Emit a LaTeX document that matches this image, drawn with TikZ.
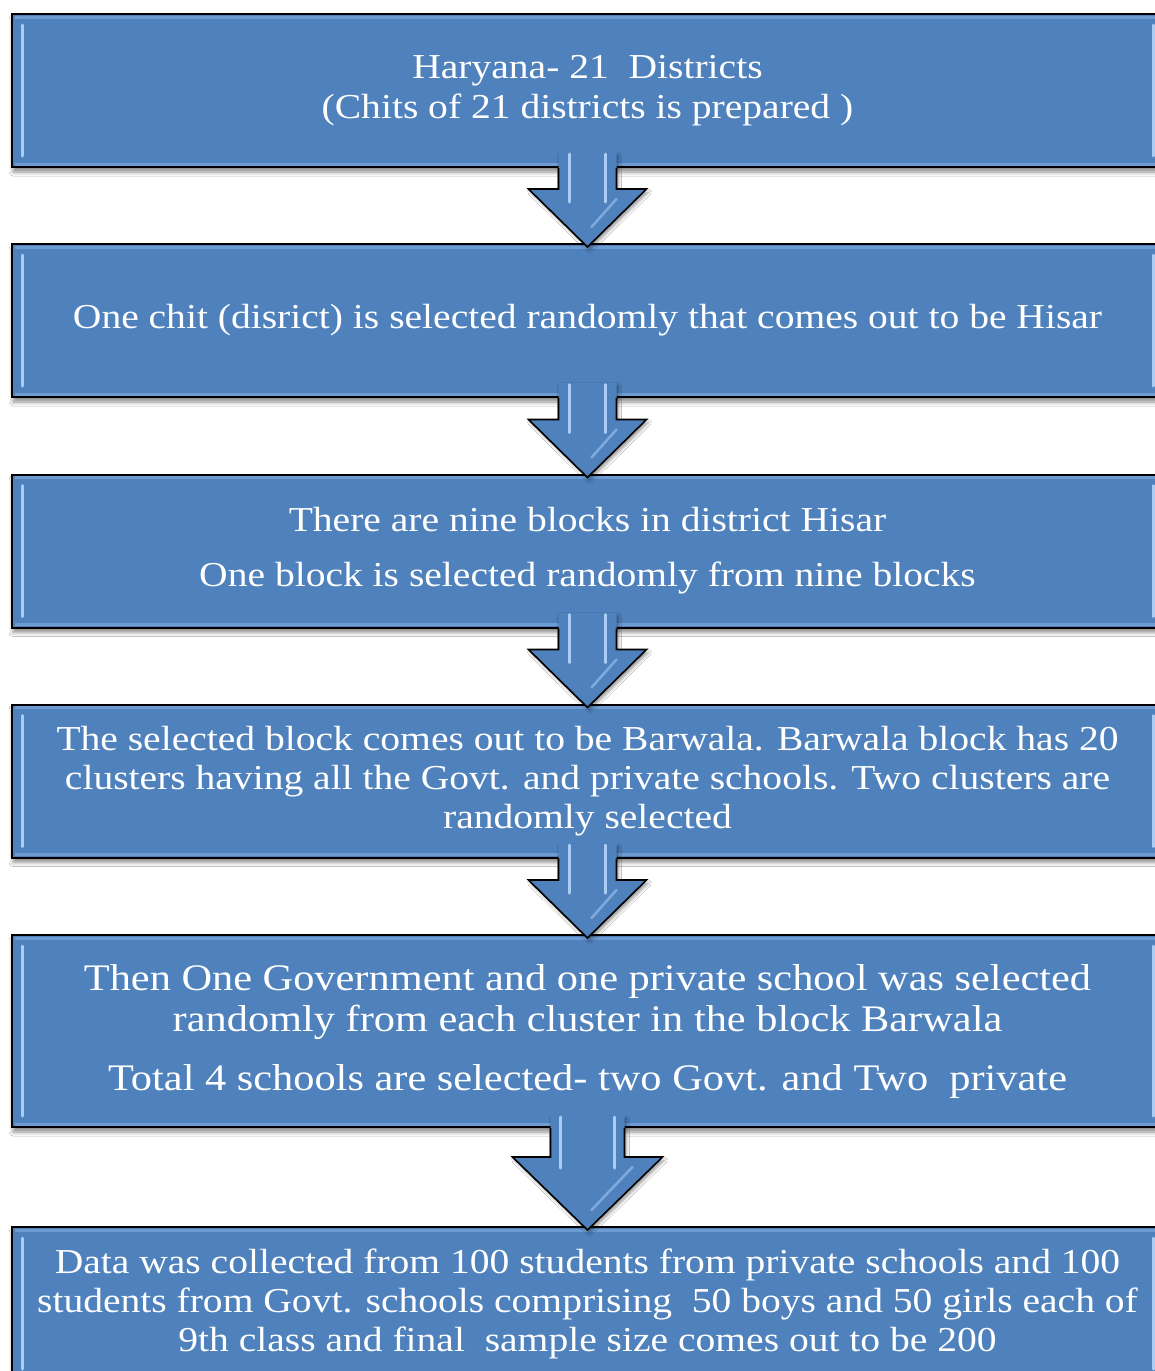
\documentclass[tikz,border=0pt]{standalone}
\usepackage{fontspec}
\setmainfont[FakeStretch=1.13]{Liberation Serif}
\usetikzlibrary{calc,shadows.blur}
\definecolor{boxblue}{HTML}{4F81BD}
\definecolor{bevellight}{HTML}{A9CDF4}
\definecolor{bandlight}{HTML}{6E9BD1}
\tikzset{
  flowbox/.style={rectangle, draw=black, line width=2pt, fill=boxblue, text=white,
    minimum width=1151pt, minimum height=153pt, inner sep=0pt, align=center,
    font=\fontsize{35}{39}\selectfont,
    blur shadow={shadow xshift=1pt, shadow yshift=-5pt, shadow blur radius=4pt, shadow opacity=45}},
  bevel/.style={draw=bevellight, line width=3pt, line cap=round},
  band/.style={draw=bandlight, line width=3pt},
  arrowfill/.style={fill=boxblue,
    blur shadow={shadow xshift=2pt, shadow yshift=-3pt, shadow blur radius=3pt, shadow opacity=40}},
  arrowline/.style={draw=black, line width=1.6pt, line join=miter},
  shaftlight/.style={draw=bevellight, line width=3pt, line cap=round},
  glosslight/.style={draw=bevellight, line width=2.5pt, line cap=round, opacity=0.55}
}
% #1 upper node, #2 lower node, #3 shaft half width, #4 wing half width,
% #5 wing height above tip, #6 shaft top above tip, #7 highlight offset, #8 highlight bottom above tip
\newcommand{\flowarrow}[8]{%
  \coordinate (tip) at ($(#2.north)+(0,4)$);
  \coordinate (sl) at ($(tip)+(-#3,0)$);
  \coordinate (sr) at ($(tip)+(#3,0)$);
  \path[arrowfill] ($(tip)+(-#3,-#6)$) -- ($(tip)+(-#3,-#5)$) -- ($(tip)+(-#4,-#5)$) -- (tip)
     -- ($(tip)+(#4,-#5)$) -- ($(tip)+(#3,-#5)$) -- ($(tip)+(#3,-#6)$) -- cycle;
  \draw[arrowline] (sl |- #1.south) -- ($(tip)+(-#3,-#5)$) -- ($(tip)+(-#4,-#5)$) -- (tip)
     -- ($(tip)+(#4,-#5)$) -- ($(tip)+(#3,-#5)$) -- (sr |- #1.south);
  \draw[shaftlight] ($(tip)+(-#7,-#6+2)$) -- ($(tip)+(-#7,-#8)$);
  \draw[shaftlight] ($(tip)+(#7,-#6+2)$) -- ($(tip)+(#7,-#8)$);
  \draw[glosslight] ($(tip)+(4,-20)$) -- ($(tip)+(#4-30,-#5+10)$);
}
\newcommand{\bevelbox}[1]{%
  \draw[band] ($(#1.north west)+(4,4)$) -- ($(#1.north east)+(-4,4)$);
  \draw[band] ($(#1.south west)+(4,-4)$) -- ($(#1.south east)+(-4,-4)$);
  \draw[bevel] ($(#1.north west)+(11,12)$) -- ($(#1.south west)+(11,-12)$);
  \draw[bevel] ($(#1.north east)+(-11,12)$) -- ($(#1.south east)+(-11,-12)$);
}
\begin{document}
\begin{tikzpicture}[x=1pt,y=-1pt]
\useasboundingbox[fill=white] (0,0) rectangle (1155,1371);
\clip (0,0) rectangle (1155,1371);

\node[flowbox] (b1) at (587.5,90.5) {Haryana- 21\ \ Districts\\[1pt](Chits of 21 districts is prepared )};
\node[flowbox] (b2) at (587.5,320.5) {One chit (disrict) is selected randomly that comes out to be Hisar};
\node[flowbox] (b3) at (587.5,551) {There are nine blocks in district Hisar\\[16pt]One block is selected randomly from nine blocks};
\node[flowbox] (b4) at (587.5,781) {The selected block comes out to be Barwala. Barwala block has 20\\clusters having all the Govt. and private schools. Two clusters are\\randomly selected};
\node[flowbox, minimum height=192pt, font=\fontsize{37.5}{41}\selectfont] (b5) at (587.5,1031) {Then One Government and one private school was selected\\randomly from each cluster in the block Barwala\\[18pt]Total 4 schools are selected- two Govt. and Two\ \ private};
\node[flowbox] (b6) at (587.5,1303.5) {Data was collected from 100 students from private schools and 100\\students from Govt. schools comprising\ \ 50 boys and 50 girls each of\\9th class and final\ \ sample size comes out to be 200};

\foreach \b in {b1,b2,b3,b4,b5,b6} {\bevelbox{\b}}

\flowarrow{b1}{b2}{29}{59}{58}{95}{18}{45}
\flowarrow{b2}{b3}{29}{59}{58}{95}{18}{45}
\flowarrow{b3}{b4}{29}{59}{58}{95}{18}{45}
\flowarrow{b4}{b5}{29}{59}{58}{95}{18}{45}
\flowarrow{b5}{b6}{37}{75}{73}{115}{27}{62}
\end{tikzpicture}
\end{document}
